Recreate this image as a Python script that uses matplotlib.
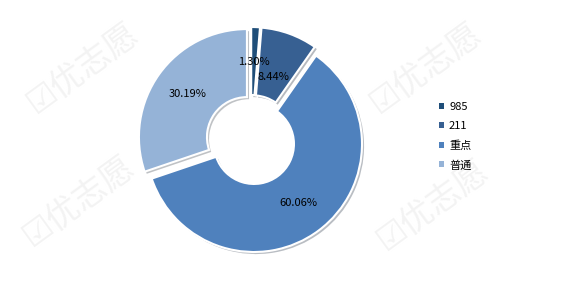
import matplotlib
matplotlib.use('Agg')
import matplotlib.pyplot as plt
import matplotlib.patheffects as pe
from matplotlib.patches import Patch
import numpy as np

plt.rcParams['font.family'] = ['Noto Sans CJK SC', 'DejaVu Sans']

labels = ['985', '211', '重点', '普通']
shares = [1.30, 8.44, 60.06, 30.19]
colors = ['#1F4E79', '#376092', '#4F81BD', '#95B3D7']

W, H = 570, 284
R = 108
cx, cy = 251, H - 140

fig = plt.figure(figsize=(5.7, 2.84), dpi=100)
ax = fig.add_axes([0, 0, 1, 1])
ax.axis('off')

# faint watermark
for wx, wy in [(78, 82), (432, 78), (82, 215), (425, 215)]:
    ax.text(wx, wy, '☑优志愿', fontsize=24, color='#f3f3f3', rotation=36,
            ha='center', va='center', zorder=0)

pct_labels = ['%.2f%%' % s for s in shares]
# explode is in data units here (pixels), not a fraction of the radius
wedges, texts = ax.pie(
    shares, colors=colors, startangle=90, counterclock=False,
    center=(cx, cy), radius=R, explode=[5] * 4,
    labels=pct_labels, labeldistance=0.68,
    wedgeprops=dict(width=R * 0.63, edgecolor='white', linewidth=1.5),
    textprops=dict(fontsize=8, color='black', ha='center', va='center'))
ax.set_xlim(0, W)
ax.set_ylim(0, H)
ax.set_aspect('equal')
for w in wedges:
    w.set_path_effects([pe.SimplePatchShadow(offset=(1.5, -1.5), alpha=0.3), pe.Normal()])

# 211 label sits a bit closer to the hole
w = wedges[1]
mid = np.deg2rad((w.theta1 + w.theta2) / 2)
ox, oy = w.center
texts[1].set_position((ox + 0.57 * R * np.cos(mid), oy + 0.57 * R * np.sin(mid)))
for t in texts:
    t.set_ha('center')
    t.set_va('center')

handles = [Patch(facecolor=c, edgecolor='none') for c in colors]
ax.legend(handles, labels, loc='upper left', bbox_to_anchor=(439 / W, 1 - 102 / H),
          frameon=False, fontsize=8, handlelength=0.45, handleheight=0.45,
          handletextpad=0.45, labelspacing=0.82, borderpad=0, borderaxespad=0)

fig.savefig('out.png', dpi=100)
